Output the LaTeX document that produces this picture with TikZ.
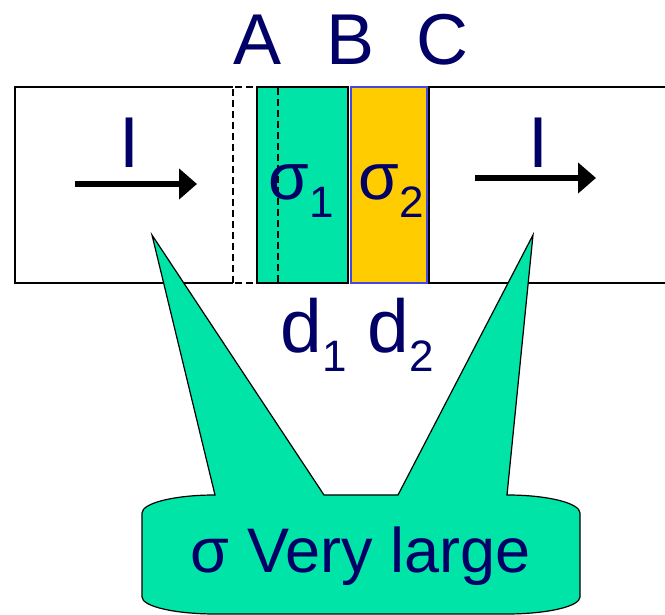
\documentclass[tikz,border=0pt]{standalone}
\usepackage{fontspec}
\setmainfont{Liberation Sans}
\usepackage{xcolor}
\usepackage{tikz}
\usetikzlibrary{arrows.meta, positioning, calc}

\definecolor{cgreen}{RGB}{0,228,168}
\definecolor{cyellow}{RGB}{255,204,0}
\definecolor{cnavy}{RGB}{0,0,102}
\definecolor{cblue}{RGB}{70,70,225}

\newcommand{\lowidx}[2][18pt]{\raisebox{-#1}{\fontsize{44}{44}\selectfont #2}}

\tikzset{
  biglbl/.style={font=\fontsize{72}{72}\selectfont, text=cnavy, inner sep=0pt},
  siglbl/.style={font=\fontsize{66}{66}\selectfont, text=cnavy, inner sep=0pt, anchor=base west},
  curarrow/.style={line width=5.5pt, -{Triangle[length=18pt, width=30pt]}},
  cutline/.style={line width=1.5pt, dash pattern=on 7pt off 4pt}
}

\begin{document}
\begin{tikzpicture}[x=1pt, y=1pt, line width=1.2pt]
    \useasboundingbox (0,0) rectangle (665,615);

    % Strip
    \draw (233,528) -- (15,528) -- (15,332) -- (233,332);
    \draw[fill=cgreen] (257,332) rectangle (348,528);
    \draw[draw=cblue, fill=cyellow] (351,332) rectangle (427,528);
    \draw (670,528) -- (429,528) -- (429,332) -- (670,332);
    \draw[cutline] (233,332) rectangle (278,528);

    % Labels on top
    \node[biglbl, anchor=base] (lA) at (258,550) {A};
    \node[biglbl, anchor=base] (lB) at (351,550) {B};
    \node[biglbl, anchor=base] (lC) at (442,550) {C};

    % Currents
    \node[biglbl, anchor=base] (iL) at (130,447) {I};
    \node[biglbl, anchor=base] (iR) at (538,447) {I};
    \coordinate (iLs) at (75,431);
    \coordinate (iLe) at (197,431);
    \coordinate (iRs) at (475,437);
    \coordinate (iRe) at (596,437);
    \draw[curarrow] (iLs) -- (iLe);
    \draw[curarrow] (iRs) -- (iRe);

    % Conductivities
    \node[siglbl] (s1) at (268,415) {σ\lowidx{1}};
    \node[siglbl] (s2) at (358,415) {σ\lowidx{2}};

    % Thicknesses
    \node[biglbl, anchor=base west, font=\fontsize{75}{75}\selectfont] (d1) at (280,262) {d\lowidx[19pt]{1}};
    \node[biglbl, anchor=base west, font=\fontsize{75}{75}\selectfont] (d2) at (367,262) {d\lowidx[19pt]{2}};

    % Callout
    \draw[fill=cgreen] (142,102)
        arc[start angle=180, end angle=90, x radius=73, y radius=18]
        -- (152,380) -- (324,120) -- (398,120) -- (533,380) -- (507,120)
        arc[start angle=90, end angle=0, x radius=73, y radius=18]
        -- (580,18)
        arc[start angle=0, end angle=-90, x radius=73, y radius=17]
        -- (215,1)
        arc[start angle=-90, end angle=-180, x radius=73, y radius=17]
        -- cycle;
    \node[biglbl, anchor=base, font=\fontsize{63}{63}\selectfont] (note) at (361,42) {σ Very large};
\end{tikzpicture}
\end{document}
